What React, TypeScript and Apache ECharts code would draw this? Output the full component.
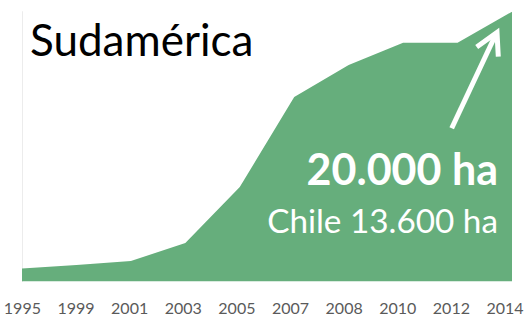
import React, { useEffect, useRef } from "react";
import * as echarts from "echarts";

const years = ["1995", "1999", "2001", "2003", "2005", "2007", "2008", "2010", "2012", "2014"];
const hectares = [970, 1220, 1520, 2850, 7000, 13680, 16050, 17700, 17700, 20000];
const titleText = "Sudamérica";
const totalText = "20.000 ha";
const chileText = "Chile 13.600 ha";

export default function App() {
  const ref = useRef<HTMLDivElement>(null);
  useEffect(() => {
    if (!ref.current) return;
    document.body.style.margin = "0";
    const chart = echarts.init(ref.current, null, { renderer: "svg" });
    chart.setOption({
      animation: false,
      backgroundColor: "#ffffff",
      grid: [
        { left: 22, right: 17, top: 11.7, bottom: 36.5 },
        { left: 22.4, right: 24, top: 11.7, bottom: 36.5 },
      ],
      xAxis: [
        {
          type: "category",
          gridIndex: 0,
          data: years,
          boundaryGap: false,
          axisLine: { show: false },
          axisTick: { show: false },
          axisLabel: { show: false },
          splitLine: { show: false },
        },
        {
          type: "category",
          gridIndex: 1,
          data: years,
          boundaryGap: false,
          axisLine: { show: false },
          axisTick: { show: false },
          axisLabel: {
            show: true,
            interval: 0,
            margin: 18,
            fontFamily: "Lato",
            fontSize: 16,
            color: "#5a5a5a",
          },
          splitLine: { show: false },
        },
      ],
      yAxis: [
        {
          type: "value",
          gridIndex: 0,
          min: 0,
          max: 20000,
          axisLine: { show: true, lineStyle: { color: "#ececec", width: 1 } },
          axisTick: { show: false },
          axisLabel: { show: false },
          splitLine: { show: false },
        },
        {
          type: "value",
          gridIndex: 1,
          min: 0,
          max: 20000,
          show: false,
        },
      ],
      series: [
        {
          type: "line",
          xAxisIndex: 0,
          yAxisIndex: 0,
          data: hectares,
          symbol: "none",
          lineStyle: { width: 0 },
          areaStyle: { color: "#66ae7c", opacity: 1 },
        },
      ],
      graphic: [
        {
          type: "text",
          z: 100,
          left: 30,
          top: 17,
          style: {
            text: titleText,
            fontFamily: "Lato",
            fontSize: 44,
            fill: "#000000",
          },
        },
        {
          type: "text",
          z: 100,
          x: 498,
          y: 168.5,
          style: {
            text: totalText,
            fontFamily: "Lato",
            fontWeight: "bold",
            fontSize: 43,
            fill: "#ffffff",
            align: "right",
            verticalAlign: "middle",
          },
        },
        {
          type: "text",
          z: 100,
          x: 498,
          y: 220,
          style: {
            text: chileText,
            fontFamily: "Lato",
            fontSize: 33.3,
            fill: "#ffffff",
            align: "right",
            verticalAlign: "middle",
          },
        },
        {
          type: "line",
          z: 100,
          shape: { x1: 451.7, y1: 128.3, x2: 495.5, y2: 35 },
          style: { stroke: "#ffffff", lineWidth: 5 },
        },
        {
          type: "polyline",
          z: 100,
          shape: { points: [[476.7, 47], [497, 32.5], [498.3, 56.7]] },
          style: { stroke: "#ffffff", lineWidth: 5, fill: null, lineJoin: "miter" },
        },
      ],
    });
    return () => chart.dispose();
  }, []);
  return <div ref={ref} style={{ width: 529, height: 318 }} />;
}
